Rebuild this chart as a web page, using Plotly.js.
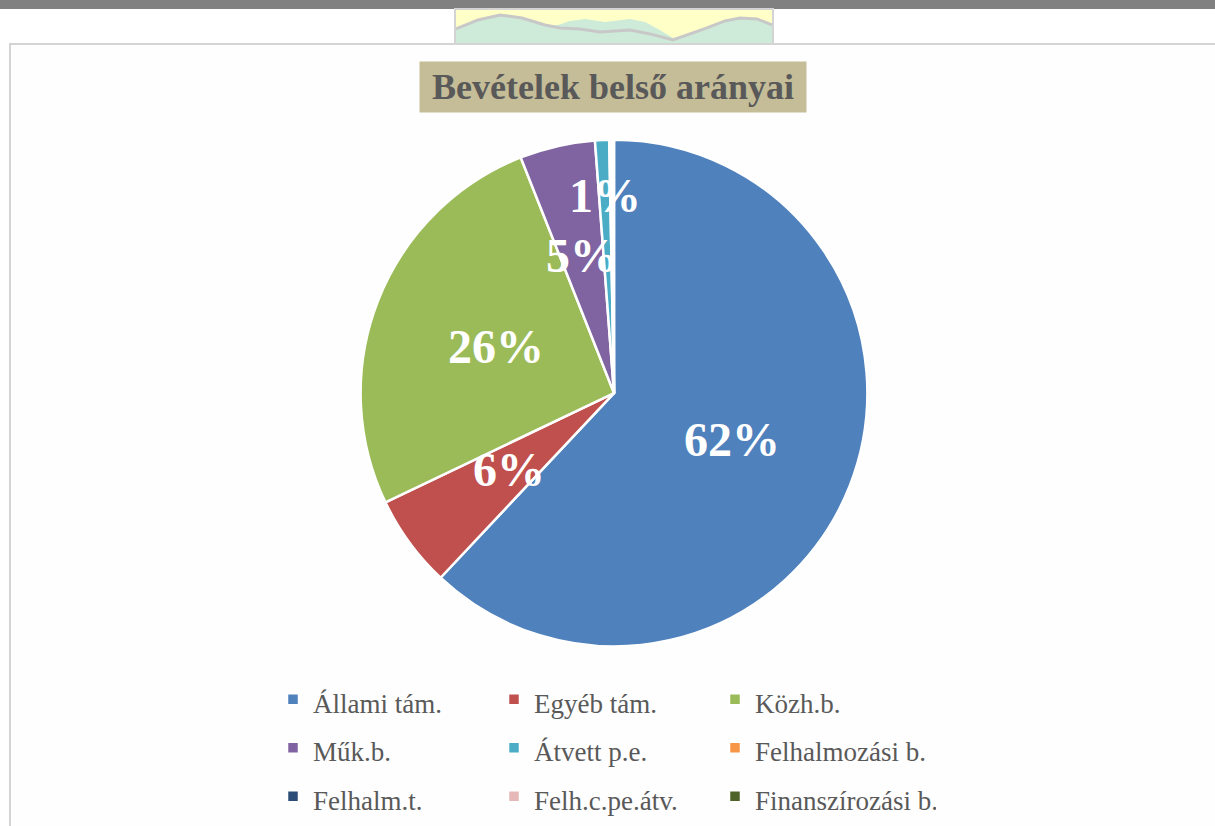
<!DOCTYPE html>
<html>
<head>
<meta charset="utf-8">
<script src="https://cdn.plot.ly/plotly-3.0.1.min.js"></script>
<style>
  html, body { margin: 0; padding: 0; background: #ffffff; }
  #chart { width: 1215px; height: 826px; }
</style>
</head>
<body>
<div id="chart"></div>
<script>
// ---- data ----
const chartTitle = 'Bevételek belső arányai';
const categories = ['Állami tám.', 'Egyéb tám.', 'Közh.b.', 'Műk.b.', 'Átvett p.e.',
                    'Felhalmozási b.', 'Felhalm.t.', 'Felh.c.pe.átv.', 'Finanszírozási b.'];
const shares = [62.0, 5.9, 26.1, 4.8, 0.9, 0.1, 0.05, 0.1, 0.05];

// ---- styles ----
const colors = ['#4F81BD', '#C0504D', '#9BBB59', '#8064A2', '#4BACC6',
                '#F79646', '#2C4D75', '#E6B9B8', '#4F6228'];
const labelRadius = [0.5, 0.51, 0.5, 0.555, 0.78, 0.7, 0.7, 0.7, 0.7];

const W = 1215, H = 826;
const M = {l: 270, r: 245, t: 0, b: 0};
const gsw = W - M.l - M.r, gsh = H - M.t - M.b;
const px2x = p => (p - M.l) / gsw;
const py2y = p => 1 - (p - M.t) / gsh;

const dom = {x: [px2x(360), px2x(868)], y: [py2y(648), py2y(140)]};

// label annotations derived from data
const total = shares.reduce((a, b) => a + b, 0);
const cxPx = M.l + gsw * (dom.x[0] + dom.x[1]) / 2;
const cyPx = M.t + gsh * (1 - (dom.y[0] + dom.y[1]) / 2);
const R = Math.min(gsw * (dom.x[1] - dom.x[0]), gsh * (dom.y[1] - dom.y[0])) / 2;
const annotations = [];
let cum = 0;
shares.forEach((v, i) => {
  const mid = (cum + v / 2) / total * 2 * Math.PI;
  cum += v;
  const pct = Math.round(v / total * 100);
  if (pct < 1) return;
  const px = cxPx + labelRadius[i] * R * Math.sin(mid);
  const py = cyPx - labelRadius[i] * R * Math.cos(mid);
  annotations.push({
    x: px2x(px), y: py2y(py), xref: 'paper', yref: 'paper',
    text: pct + '%', showarrow: false, xanchor: 'center', yanchor: 'middle',
    font: {family: 'Liberation Serif', size: 48, color: '#ffffff', weight: 'bold'}
  });
});

// title box
annotations.push({
  x: px2x(613), y: py2y(87), xref: 'paper', yref: 'paper',
  text: '<b>' + chartTitle + '</b>', showarrow: false,
  xanchor: 'center', yanchor: 'middle',
  width: 380, height: 44, borderpad: 3,
  bgcolor: '#C4BD97',
  font: {family: 'Liberation Serif', size: 36, color: '#595959'}
});

function pathFrom(pts, close) {
  let s = 'M' + px2x(pts[0][0]) + ',' + py2y(pts[0][1]);
  for (let i = 1; i < pts.length; i++) s += ' L' + px2x(pts[i][0]) + ',' + py2y(pts[i][1]);
  return s + (close ? ' Z' : '');
}
const hillTop = [[456,29],[478,20],[500,15],[522,18],[545,25],[558,25],[570,21],[585,19],[605,22],[630,19],[645,22],[658,29],[673,38],[690,34],[707,28],[725,21],[740,18],[757,19],[772,24]];
const waveLine = [[456,29],[478,20],[500,15],[522,18],[545,25],[560,28],[580,29],[600,32],[615,31],[630,30],[650,34],[673,40],[690,34],[707,28],[725,21],[740,18],[757,19],[772,25]];

const shapes = [
  {type: 'rect', xref: 'paper', yref: 'paper', x0: px2x(-5), x1: px2x(1220), y0: py2y(9), y1: py2y(-5),
   fillcolor: '#808080', line: {width: 0}, layer: 'below'},
  {type: 'rect', xref: 'paper', yref: 'paper', x0: px2x(10), x1: px2x(1225), y0: py2y(835), y1: py2y(44),
   fillcolor: '#FEFEFE', line: {color: '#D4D4D4', width: 2}, layer: 'below'},
  {type: 'rect', xref: 'paper', yref: 'paper', x0: px2x(455), x1: px2x(773), y0: py2y(43), y1: py2y(9),
   fillcolor: '#FFFFC8', line: {color: '#D4D4D4', width: 2}, layer: 'below'},
  {type: 'path', xref: 'paper', yref: 'paper', layer: 'below',
   path: pathFrom(hillTop.concat([[772,43],[456,43]]), true),
   fillcolor: '#CDEBD8', line: {width: 0}},
  {type: 'path', xref: 'paper', yref: 'paper', layer: 'below',
   path: pathFrom(waveLine, false), line: {color: '#C8C8C8', width: 3}}
];

const trace = {
  type: 'pie',
  labels: categories.map(c => '<span style="font-size:27px">' + c + '</span>'),
  values: shares,
  sort: false,
  direction: 'clockwise',
  rotation: 0,
  textinfo: 'none',
  hoverinfo: 'skip',
  marker: {colors: colors, line: {color: '#ffffff', width: 2.5}},
  domain: dom
};

const layout = {
  width: W, height: H,
  margin: M,
  paper_bgcolor: '#ffffff',
  plot_bgcolor: '#ffffff',
  showlegend: true,
  legend: {
    orientation: 'h',
    x: px2x(273), xanchor: 'left',
    y: py2y(672), yanchor: 'top',
    entrywidth: 176, entrywidthmode: 'pixels',
    bgcolor: 'rgba(0,0,0,0)',
    traceorder: 'normal',
    font: {family: 'Liberation Serif', size: 35, color: '#595959'}
  },
  annotations: annotations,
  shapes: shapes
};

Plotly.newPlot('chart', [trace], layout, {displayModeBar: false, staticPlot: true});
</script>
</body>
</html>
